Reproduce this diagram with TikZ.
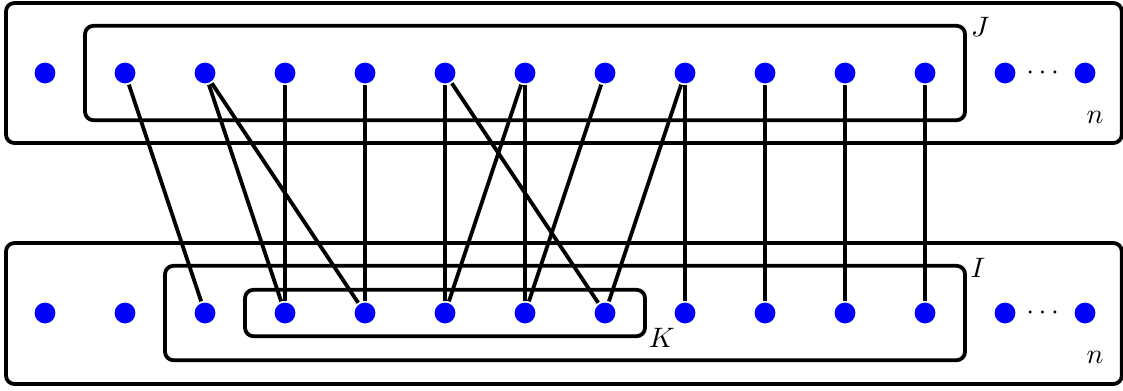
\documentclass[tikz,border=0pt]{standalone}
\usepackage{amsmath, amssymb}
\usepackage{tikz}
\usetikzlibrary{calc, positioning}

\begin{document}
\begin{tikzpicture}[line width=1.35pt,
    dot/.style={circle, fill=blue, inner sep=0pt, minimum size=0.26cm},
    setbox/.style={draw, rounded corners=3pt}]
    % Khung giới hạn của hình
    \useasboundingbox (-0.5625,-0.9625) rectangle (13.475,3.9125);

    % Hai khung ngoài (hàng trên và hàng dưới)
    \draw[setbox] (-0.4875,2.125) rectangle (13.46,3.875);
    \draw[setbox] (-0.4875,-0.8875) rectangle (13.46,0.875);

    % Các khung con J, I, K
    \draw[setbox] (0.5,2.41) rectangle (11.5,3.59);
    \draw[setbox] (1.5,-0.59) rectangle (11.5,0.59);
    \draw[setbox] (2.5,-0.29) rectangle (7.5,0.29);

    % Các điểm của hai hàng
    \foreach \i in {0,...,13} {
        \node[dot] (t\i) at (\i,3) {};
        \node[dot] (b\i) at (\i,0) {};
    }

    % Dấu ba chấm giữa hai điểm cuối
    \node (tdots) at (12.5,3) {$\cdots$};
    \node (bdots) at (12.5,0) {$\cdots$};

    % Các cạnh nối hàng trên với hàng dưới
    \foreach \a/\b in {1/2, 2/3, 2/4, 3/3, 4/4, 5/5, 5/7, 6/5, 6/6,
                       7/6, 8/7, 8/8, 9/9, 10/10, 11/11}
        \draw (t\a) -- (b\b);

    % Gán nhãn
    \node (labJ) at (11.69,3.575) {$J$};
    \node (labI) at (11.66,0.5625) {$I$};
    \node (labK) at (7.71,-0.3125) {$K$};
    \node (labnt) at (13.125,2.44) {$n$};
    \node (labnb) at (13.125,-0.55) {$n$};
\end{tikzpicture}
\end{document}
